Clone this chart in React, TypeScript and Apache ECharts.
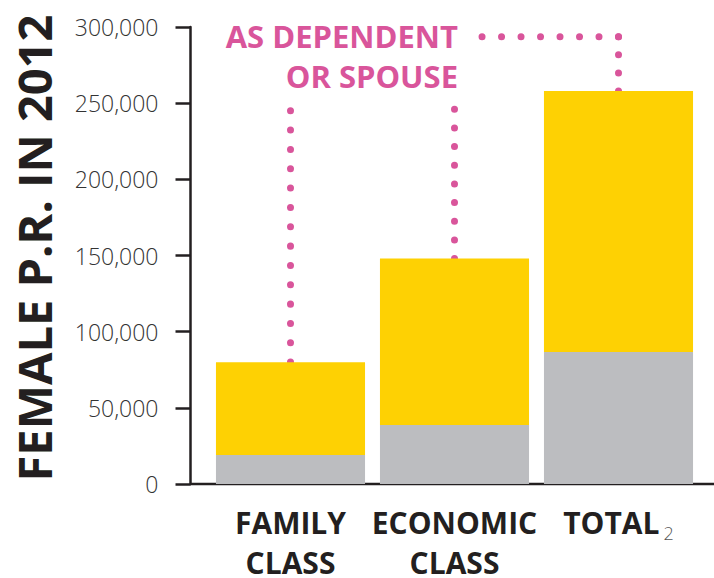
import React, { useEffect, useRef } from 'react';
import * as echarts from 'echarts';

// ---- data ----
const categories = ['FAMILY\nCLASS', 'ECONOMIC\nCLASS', 'TOTAL'];
const principalValues = [19000, 38700, 86700]; // grey part
const dependentValues = [61000, 109300, 171300]; // yellow part (as dependent or spouse)
const yTitle = 'FEMALE P.R. IN 2012';
const noteText = 'AS DEPENDENT\nOR SPOUSE';
const leaderTopValues = [245000, 246000, 293600]; // where the dotted leaders end (value scale)
const leaderLeftOffset = 0.168; // horizontal leader ends this fraction past ECONOMIC centre

const PINK = '#D9559B';
const INK = '#231F20';

export default function App() {
  const ref = useRef<HTMLDivElement>(null);
  useEffect(() => {
    document.body.style.margin = '0';
    const chart = echarts.init(ref.current!, null, { renderer: 'svg' });
    chart.setOption({
      animation: false,
      grid: { left: 208.5, right: 13.5, top: 27, bottom: 94 },
      xAxis: {
        type: 'category',
        data: categories,
        axisLine: { show: false },
        axisTick: { show: false },
        axisLabel: {
          interval: 0,
          margin: 18,
          formatter: (v: string) =>
            v === 'TOTAL'
              ? '{b|TOTAL}{s|2}'
              : v.split('\n').map((s) => `{b|${s}}`).join('\n'),
          rich: {
            b: { fontFamily: 'Open Sans', fontWeight: 'bold', fontSize: 30, lineHeight: 40, color: INK },
            s: {
              fontFamily: 'Open Sans',
              fontWeight: 300,
              fontSize: 18,
              lineHeight: 18,
              verticalAlign: 'bottom',
              color: '#555',
              padding: [0, 0, 0, 4],
            },
          },
        },
      },
      yAxis: {
        type: 'value',
        min: 0,
        max: 300000,
        interval: 50000,
        offset: 18,
        axisLine: { show: true, lineStyle: { color: INK, width: 2.5 } },
        axisTick: { show: true, length: 15, lineStyle: { color: INK, width: 2.5 } },
        splitLine: { show: false },
        axisLabel: {
          margin: 32,
          fontFamily: 'Open Sans',
          fontWeight: 300,
          fontSize: 23,
          color: '#333',
          formatter: (v: number) => v.toLocaleString('en-US'),
        },
      },
      series: [
        { type: 'bar', stack: 'a', data: principalValues, barCategoryGap: '9.1%', itemStyle: { color: '#BCBDC0' } },
        { type: 'bar', stack: 'a', data: dependentValues, itemStyle: { color: '#FED103' } },
      ],
    });

    const px = (i: number, v: number) => chart.convertToPixel({ gridIndex: 0 }, [i, v]) as number[];
    const totals = principalValues.map((p, i) => p + dependentValues[i]);
    const dotted = (a: number[], b: number[]) => {
      const dx = b[0] - a[0];
      const dy = b[1] - a[1];
      const len = Math.hypot(dx, dy);
      const n = Math.max(1, Math.round(len / 19));
      const gap = len / n;
      const ext = 1 / len;
      return {
        type: 'line',
        silent: true,
        shape: { x1: a[0], y1: a[1], x2: b[0] + dx * ext, y2: b[1] + dy * ext },
        style: { stroke: PINK, lineWidth: 7, lineCap: 'round', lineDash: [0.01, gap - 0.01] },
      };
    };
    const zero = px(0, 0);
    const c1Top = px(0, totals[0]);
    const c1End = px(0, leaderTopValues[0]);
    const c2Top = px(1, totals[1]);
    const c2End = px(1, leaderTopValues[1]);
    const c3Top = px(2, totals[2]);
    const corner = px(2, leaderTopValues[2]);
    const p1 = px(1, 0);
    const p2 = px(2, 0);
    const leftEnd = [p1[0] + leaderLeftOffset * (p2[0] - p1[0]), corner[1]];

    chart.setOption({
      graphic: [
        {
          type: 'line',
          silent: true,
          shape: { x1: 190, y1: zero[1], x2: 714, y2: zero[1] },
          style: { stroke: INK, lineWidth: 2.5 },
        },
        dotted(c1Top, c1End),
        dotted(c2Top, c2End),
        dotted(c3Top, corner),
        dotted(corner, leftEnd),
        {
          type: 'text',
          x: 34,
          y: 248,
          rotation: Math.PI / 2,
          style: {
            text: yTitle,
            fontFamily: 'Open Sans',
            fontWeight: 'bold',
            fontSize: 47,
            fill: INK,
            textAlign: 'center',
            textVerticalAlign: 'middle',
          },
        },
        {
          type: 'text',
          x: 458,
          y: 56,
          style: {
            text: noteText,
            fontFamily: 'Open Sans',
            fontWeight: 'bold',
            fontSize: 31,
            lineHeight: 40.5,
            fill: PINK,
            textAlign: 'right',
            textVerticalAlign: 'middle',
          },
        },
      ],
    });
    return () => chart.dispose();
  }, []);
  return <div ref={ref} style={{ width: 714, height: 578 }} />;
}
